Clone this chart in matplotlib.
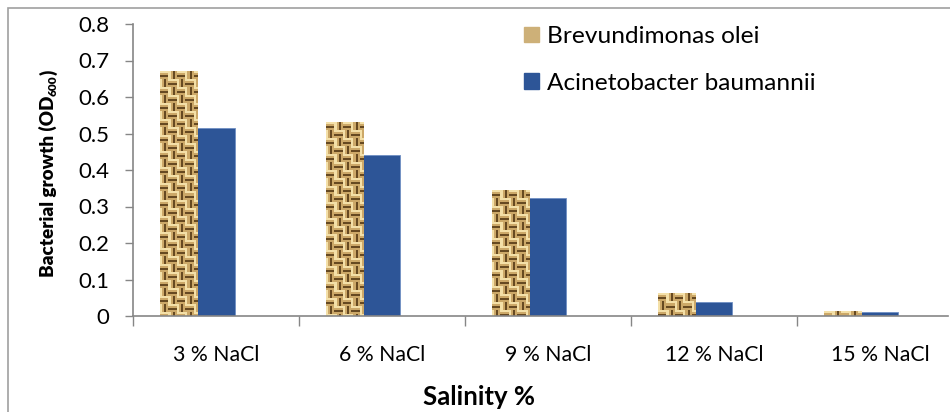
import numpy as np
import matplotlib
matplotlib.use("Agg")
import matplotlib.pyplot as plt
from matplotlib.patches import Rectangle, Patch

categories = ["3 % NaCl", "6 % NaCl", "9 % NaCl", "12 % NaCl", "15 % NaCl"]
brevundimonas = [0.671, 0.529, 0.345, 0.063, 0.011]
acinetobacter = [0.515, 0.440, 0.323, 0.038, 0.010]
yticks = [0, 0.1, 0.2, 0.3, 0.4, 0.5, 0.6, 0.7, 0.8]

plt.rcParams['font.family'] = ['Lato', 'DejaVu Sans']
plt.rcParams['hatch.color'] = "#8a6c3a"

GREY = "#868686"
BLUE = "#2D5597"
W, H = 950, 412


def weave_tile():
    # basket weave tile for the burlap look
    light = np.array([0.96, 0.88, 0.66])
    mid = np.array([0.80, 0.66, 0.41])
    dark = np.array([0.40, 0.29, 0.13])
    stripes = [light, mid, dark, mid]
    tile = np.zeros((8, 8, 3))
    for r in range(8):
        for c in range(8):
            horiz = ((r // 4) + (c // 4)) % 2 == 0
            tile[r, c] = stripes[r % 4] if horiz else stripes[c % 4]
    return tile


fig = plt.figure(figsize=(9.5, 4.12), dpi=100)
fig.patches.append(Rectangle((8 / W, -0.1), 1.2, (H - 8) / H + 0.1,
                             transform=fig.transFigure, fill=False,
                             edgecolor="#a0a0a0", lw=1.2))

ax = fig.add_axes([133 / W, (H - 316) / H, (948 - 133) / W, (316 - 24) / H])
x = np.arange(len(categories))
w = 0.223

bars1 = ax.bar(x - w, brevundimonas, w, color="none", edgecolor="none")
bars2 = ax.bar(x, acinetobacter, w, color=BLUE, edgecolor="#6f8fc4", lw=0.6)

tile = weave_tile()
big = np.tile(tile, (60, 8, 1))
for b in bars1:
    h_px = max(1, int(round(b.get_height() * 365 / 2)))
    img = big[:h_px, :18]
    ax.imshow(img, extent=[b.get_x(), b.get_x() + b.get_width(), 0, b.get_height()],
              aspect="auto", interpolation="nearest", zorder=2)

ax.set_xlim(-0.5, 4.41)
ax.set_ylim(0, 0.8)
ax.set_yticks(yticks)
ax.set_yticklabels([f"{t:g}" for t in yticks])
ax.set_xticks(x)
ax.set_xticklabels(categories)
ax.set_xticks(np.arange(-0.5, 4.5, 1), minor=True)

for s in ["top", "right"]:
    ax.spines[s].set_visible(False)
for s in ["left", "bottom"]:
    ax.spines[s].set_color(GREY)
    ax.spines[s].set_linewidth(1.2)

ax.tick_params(axis="y", length=6, color=GREY, width=1, labelsize=16, pad=11)
ax.tick_params(axis="x", which="major", length=0, labelsize=15.3, pad=21)
ax.tick_params(axis="x", which="minor", length=7, color=GREY, width=1)

ax.set_xlabel("Salinity %", fontsize=18.5, fontweight="bold")
ax.xaxis.set_label_coords(0.4245, -0.277)
ax.xaxis.label.set_va("center")

# y label in bold with subscript, built from pieces
renderer = fig.canvas.get_renderer()
t1 = fig.text(48 / W, (H - 277) / H, "Bacterial growth (OD", rotation=90,
              ha="center", va="bottom", fontsize=13.6, fontweight="heavy")
bb = t1.get_window_extent(renderer)
t2 = fig.text(53 / W, bb.y1 / H, "600", rotation=90, ha="center", va="bottom",
              fontsize=8.5, fontweight="heavy")
bb2 = t2.get_window_extent(renderer)
fig.text(48 / W, bb2.y1 / H, ")", rotation=90, ha="center", va="bottom",
         fontsize=13.6, fontweight="heavy")

handles = [Patch(facecolor="#cdb078", edgecolor="#cdb078", hatch="++", label="Brevundimonas olei"),
           Patch(facecolor=BLUE, edgecolor=BLUE, label="Acinetobacter baumannii")]
ax.legend(handles=handles, loc="upper left", bbox_to_anchor=(0.453, 1.068), frameon=False,
          fontsize=17.6, handlelength=0.6, handleheight=0.6, handletextpad=0.35,
          labelspacing=1.05)

fig.savefig("out.png", dpi=100)
